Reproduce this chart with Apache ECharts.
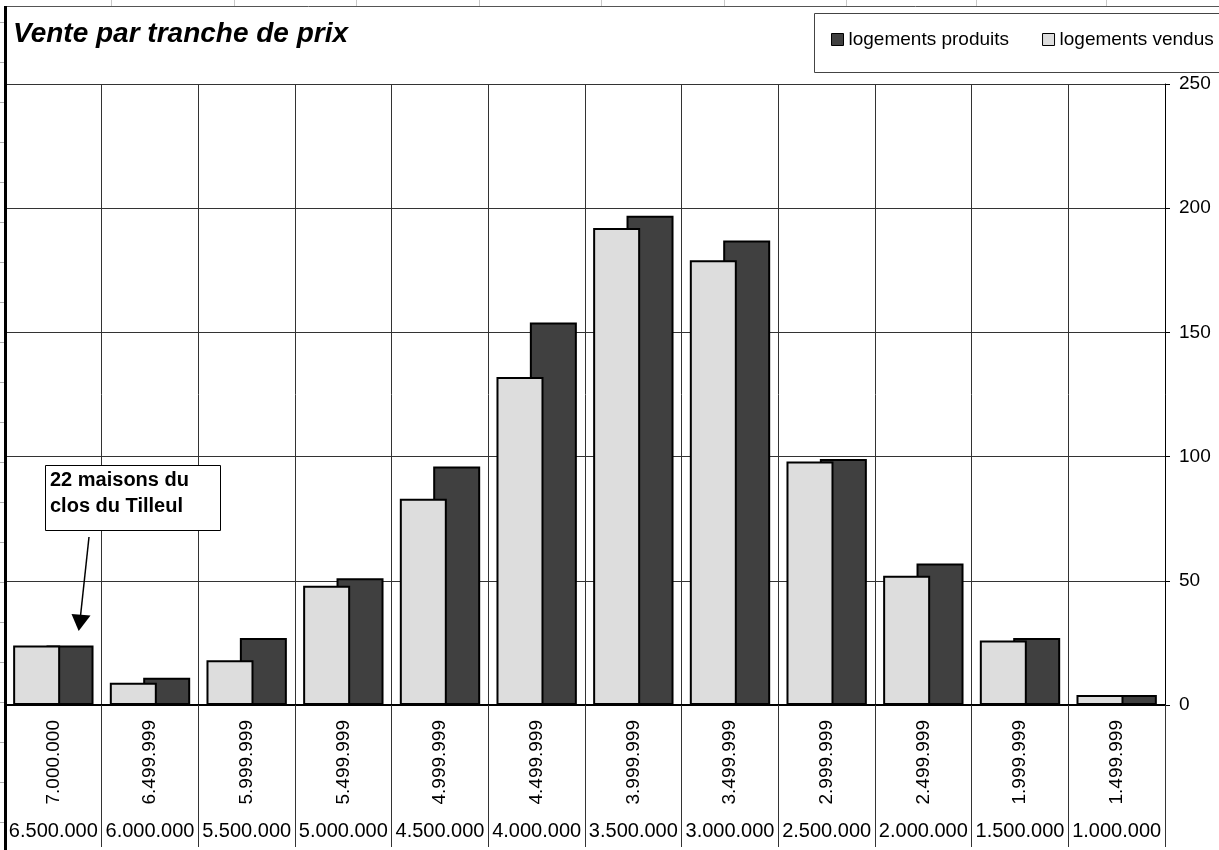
<!DOCTYPE html>
<html>
<head>
<meta charset="utf-8">
<script src="https://cdn.jsdelivr.net/npm/echarts@6/dist/echarts.min.js"></script>
<style>
html,body{margin:0;padding:0;background:#fff;}
#chart{width:1219px;height:850px;}
</style>
</head>
<body>
<div id="chart"></div>
<script>
// Upper (rotated) and lower (horizontal) price-band labels
var upperLabels = ['7.000.000','6.499.999','5.999.999','5.499.999','4.999.999','4.499.999','3.999.999','3.499.999','2.999.999','2.499.999','1.999.999','1.499.999'];
var lowerLabels = ['6.500.000','6.000.000','5.500.000','5.000.000','4.500.000','4.000.000','3.500.000','3.000.000','2.500.000','2.000.000','1.500.000','1.000.000'];
var vendus   = [24, 9, 18, 48, 83, 132, 192, 179, 98, 52, 26, 4];
var produits = [24, 11, 27, 51, 96, 154, 197, 187, 99, 57, 27, 4];
var yTicks = [0, 50, 100, 150, 200, 250];

var FONT = "Arial, 'Liberation Sans', sans-serif";
var chart = echarts.init(document.getElementById('chart'), null, {renderer: 'canvas'});

var frame = [];
// spreadsheet column lines above chart
[111, 234, 356, 479, 601, 724, 846, 976, 1106].forEach(function (x) {
  frame.push({type: 'line', shape: {x1: x + 0.5, y1: 0, x2: x + 0.5, y2: 6}, style: {stroke: '#c8c8c8', lineWidth: 1}, z: 0});
});
// spreadsheet row ticks on the left
for (var y = 22; y < 850; y += 40) {
  frame.push({type: 'line', shape: {x1: 0, y1: y + 0.5, x2: 4, y2: y + 0.5}, style: {stroke: '#b0b0b0', lineWidth: 1}, z: 0});
}
frame.push({type: 'line', shape: {x1: 5, y1: 6.5, x2: 1219, y2: 6.5}, style: {stroke: '#555', lineWidth: 1}, z: 0});
frame.push({type: 'line', shape: {x1: 5.5, y1: 6, x2: 5.5, y2: 850}, style: {stroke: '#000', lineWidth: 3}, z: 10});
// legend box (runs past the right edge)
frame.push({type: 'rect', shape: {x: 814.5, y: 13.5, width: 420, height: 59}, style: {fill: '#fff', stroke: '#444', lineWidth: 1}, z: 0});

// annotation
frame.push({type: 'rect', shape: {x: 45.5, y: 465.5, width: 175, height: 65}, style: {fill: '#fff', stroke: '#000', lineWidth: 1}, z: 20});
frame.push({type: 'text', x: 50, y: 467, style: {text: '22 maisons du\nclos du Tilleul', font: 'bold 20px ' + FONT, fill: '#000', lineHeight: 26}, z: 21});
frame.push({type: 'line', shape: {x1: 89, y1: 537, x2: 80.5, y2: 616}, style: {stroke: '#000', lineWidth: 1.5}, z: 20});
frame.push({type: 'polygon', shape: {points: [[71.5, 614], [90.5, 615.5], [78.7, 631]]}, style: {fill: '#000'}, z: 20});

var option = {
  animation: false,
  backgroundColor: '#fff',
  title: {
    text: 'Vente par tranche de prix',
    left: 8, top: 15,
    textStyle: {fontFamily: FONT, fontSize: 28, fontWeight: 'bold', fontStyle: 'italic', color: '#000'}
  },
  legend: {
    data: ['logements produits', 'logements vendus'],
    orient: 'horizontal',
    left: 814, top: 13,
    padding: [17, 0, 20, 17],
    itemWidth: 12, itemHeight: 12, itemGap: 33,
    icon: 'rect',
    itemStyle: {borderWidth: 1, borderColor: '#000'},
    textStyle: {fontFamily: FONT, fontSize: 19, color: '#000'}
  },
  grid: {left: 5, right: 54, top: 84, bottom: 145, containLabel: false},
  xAxis: [{
    type: 'category',
    data: upperLabels,
    boundaryGap: true,
    axisLine: {show: true, lineStyle: {color: '#000', width: 2}},
    axisTick: {show: true, length: 142, interval: 0, lineStyle: {color: '#333', width: 1}},
    splitLine: {show: true, interval: 0, lineStyle: {color: '#333', width: 1}},
    axisLabel: {interval: 0, rotate: 90, margin: 15, fontFamily: FONT, fontSize: 19, color: '#000'}
  }, {
    type: 'category',
    data: lowerLabels,
    position: 'bottom',
    boundaryGap: true,
    axisLine: {show: false},
    axisTick: {show: false},
    splitLine: {show: false},
    axisLabel: {interval: 0, margin: 116, fontFamily: FONT, fontSize: 20, color: '#000'}
  }],
  yAxis: {
    type: 'value',
    position: 'right',
    min: yTicks[0], max: yTicks[yTicks.length - 1], interval: 50,
    axisLine: {show: true, lineStyle: {color: '#000', width: 1}},
    axisTick: {show: true, length: 5, lineStyle: {color: '#000'}},
    splitLine: {show: true, lineStyle: {color: '#333', width: 1}},
    axisLabel: {margin: 14, fontFamily: FONT, fontSize: 19, color: '#000'}
  },
  series: [{
    name: 'logements vendus',
    type: 'bar',
    xAxisIndex: 0,
    data: vendus,
    barWidth: 47,
    barGap: '-29%',
    z: 3,
    itemStyle: {color: '#dddddd', borderColor: '#000', borderWidth: 2}
  }, {
    name: 'logements produits',
    type: 'bar',
    xAxisIndex: 0,
    data: produits,
    barWidth: 47,
    barGap: '-29%',
    z: 2,
    itemStyle: {color: '#404040', borderColor: '#000', borderWidth: 2}
  }],
  graphic: frame
};
chart.setOption(option);
</script>
</body>
</html>
